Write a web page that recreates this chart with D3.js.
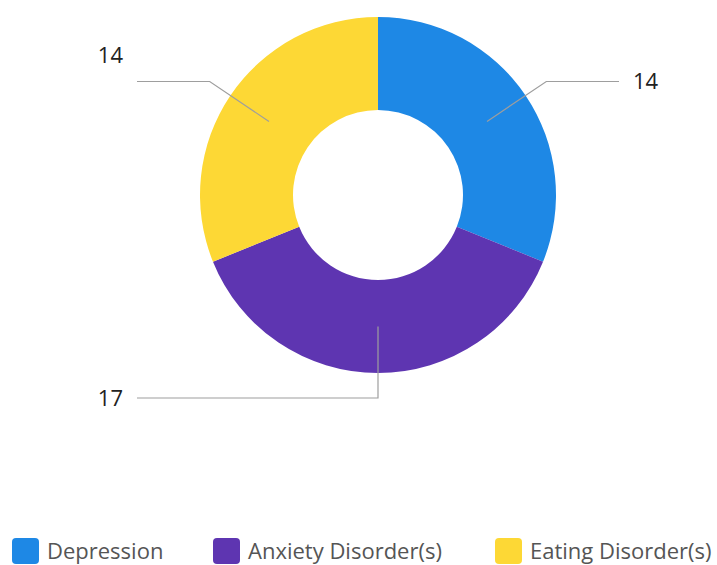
<!DOCTYPE html>
<html>
<head>
<meta charset="utf-8">
<script src="https://cdn.jsdelivr.net/npm/d3@7"></script>
<style>
  html, body { margin: 0; padding: 0; background: #fff; }
  svg { display: block; }
</style>
</head>
<body>
<svg id="chart" width="717" height="565"></svg>
<script>
// Survey responses per category
const categories = ["Depression", "Anxiety Disorder(s)", "Eating Disorder(s)"];
const counts = [14, 17, 14];
const colors = ["#1E88E5", "#5E35B1", "#FDD835"];

const W = 717, H = 565;
const cx = 378, cy = 195;
const outerR = 178, innerR = 85;
const elbowR = 203;

const svg = d3.select("#chart");
const g = svg.append("g").attr("transform", `translate(${cx},${cy})`);

const data = categories.map((c, i) => ({ name: c, value: counts[i], color: colors[i] }));

const pie = d3.pie().value(d => d.value).sort(null);
const arcs = pie(data);

const arc = d3.arc().innerRadius(innerR).outerRadius(outerR);
const midArc = d3.arc().innerRadius((innerR + outerR) / 2).outerRadius((innerR + outerR) / 2);
const elbowArc = d3.arc().innerRadius(elbowR).outerRadius(elbowR);

g.selectAll("path.slice")
  .data(arcs)
  .join("path")
  .attr("class", "slice")
  .attr("d", arc)
  .attr("fill", d => d.data.color);

// Leader lines: centroid -> elbow -> horizontal run
const runEnd = { right: 619 - cx, left: 137 - cx };
const labelDy = [0, 0, -26];

arcs.forEach((a, i) => {
  const p0 = midArc.centroid(a);
  const p1 = elbowArc.centroid(a);
  const mid = (a.startAngle + a.endAngle) / 2;
  const right = Math.sin(mid) > 0.001;
  const xEnd = right ? runEnd.right : runEnd.left;
  g.append("polyline")
    .attr("points", [p0, p1, [xEnd, p1[1]]].map(p => p.join(",")).join(" "))
    .attr("fill", "none")
    .attr("stroke", "#9e9e9e")
    .attr("stroke-width", 1.2);
  g.append("text")
    .attr("x", right ? xEnd + 14 : xEnd - 14)
    .attr("y", p1[1] + labelDy[i])
    .attr("dy", "0.35em")
    .attr("text-anchor", right ? "start" : "end")
    .attr("font-family", "'Open Sans', sans-serif")
    .attr("font-size", 22)
    .attr("fill", "#222")
    .text(a.data.value);
});

// Legend
const legendX = [12, 213, 495];
const legend = svg.append("g");
data.forEach((d, i) => {
  const lg = legend.append("g").attr("transform", `translate(${legendX[i]},538)`);
  lg.append("rect")
    .attr("width", 27).attr("height", 26)
    .attr("rx", 4)
    .attr("fill", d.color);
  lg.append("text")
    .attr("x", 35).attr("y", 13)
    .attr("dy", "0.35em")
    .attr("font-family", "'Open Sans', sans-serif")
    .attr("font-size", 22)
    .attr("fill", "#555")
    .text(d.name);
});
</script>
</body>
</html>
